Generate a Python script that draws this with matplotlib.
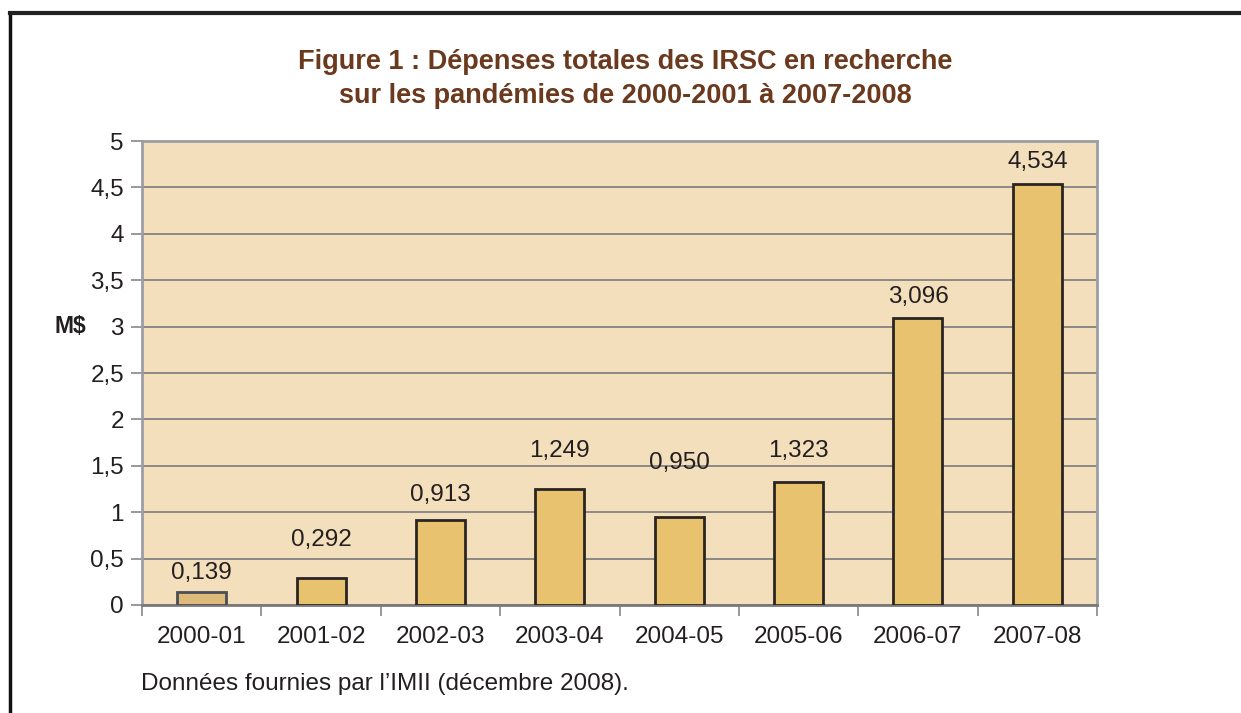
import numpy as np
import matplotlib.pyplot as plt
from matplotlib.lines import Line2D

years = ["2000-01", "2001-02", "2002-03", "2003-04", "2004-05", "2005-06", "2006-07", "2007-08"]
spend = [0.139, 0.292, 0.913, 1.249, 0.950, 1.323, 3.096, 4.534]
yticks = [0, 0.5, 1, 1.5, 2, 2.5, 3, 3.5, 4, 4.5, 5]
# where the value labels sit (they were placed by hand in the original)
label_y = [0.345, 0.70, 1.185, 1.66, 1.53, 1.66, 3.32, 4.77]

plt.rcParams['font.family'] = ['Liberation Sans', 'DejaVu Sans']
txt = '#231f20'

fig = plt.figure(figsize=(12.41, 7.13), dpi=100)
ax = fig.add_axes([0.1144, 0.1515, 0.7696, 0.6507])
ax.set_facecolor('#F3DFBC')

x = np.arange(len(years))
fills = ['#DDB97A'] + ['#E9C26F'] * (len(years) - 1)
edges = ['#4a4e55'] + ['#2a2522'] * (len(years) - 1)
ax.bar(x, spend, width=0.41, color=fills, edgecolor=edges, linewidth=2, zorder=3)

for xi, v, ly in zip(x, spend, label_y):
    ax.text(xi, ly, f"{v:.3f}".replace('.', ','), ha='center', va='center',
            fontsize=17.5, color=txt, zorder=4)

ax.set_xlim(-0.5, len(years) - 0.5)
ax.set_ylim(0, 5)
ax.set_yticks(yticks)
ax.set_yticklabels([f"{t:g}".replace('.', ',') for t in yticks], fontsize=17.5, color=txt)
ax.yaxis.grid(True, color='#7a7a7a', linewidth=1.2, zorder=1)
ax.set_axisbelow(True)

ax.set_xticks(x)
ax.set_xticklabels(years, fontsize=17.5, color=txt)
ax.tick_params(axis='x', which='major', length=0, pad=15)
ax.set_xticks(np.arange(-0.5, len(years)), minor=True)
ax.tick_params(axis='x', which='minor', length=8, color='#888888', width=1.2)
ax.tick_params(axis='y', length=8, color='#888888', width=1.2, pad=5)

for s in ax.spines.values():
    s.set_color('#9a9ea4')
    s.set_linewidth(2)
ax.spines['bottom'].set_color('#7a7a7a')

fig.text(70 / 1241, 1 - 327 / 713, "M$", fontsize=16.5, fontweight='bold', ha='center', va='center', color=txt)
fig.text(0.504, 1 - 62 / 713, "Figure 1 : Dépenses totales des IRSC en recherche",
         fontsize=19.5, fontweight='bold', ha='center', va='center', color='#6B3A1E')
fig.text(0.504, 1 - 96 / 713, "sur les pandémies de 2000-2001 à 2007-2008",
         fontsize=19.5, fontweight='bold', ha='center', va='center', color='#6B3A1E')
fig.text(141 / 1241, 1 - 684 / 713, "Données fournies par l’IMII (décembre 2008).",
         fontsize=17.5, ha='left', va='center', color=txt)

# outer frame of the figure box
fig.add_artist(Line2D([10 / 1241, 10 / 1241], [0, 1 - 13 / 713], transform=fig.transFigure,
                      color='#111111', linewidth=2.5))
fig.add_artist(Line2D([10 / 1241, 1], [1 - 13 / 713, 1 - 13 / 713], transform=fig.transFigure,
                      color='#222222', linewidth=3))

fig.savefig("out.png", dpi=100, facecolor='white')
